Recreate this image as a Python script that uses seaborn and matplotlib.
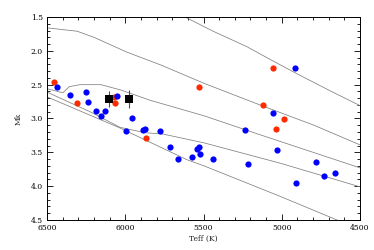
import matplotlib
matplotlib.use('Agg')
import matplotlib.pyplot as plt
from matplotlib.ticker import MultipleLocator
import pandas as pd
import seaborn as sns

# Stars (Teff, Mk)
red_teff = [6455, 6308, 6072, 6065, 5867, 5529, 5120, 5056, 4986, 5037]
red_mk   = [2.46, 2.77, 2.68, 2.77, 3.29, 2.53, 2.80, 2.25, 3.01, 3.16]

blue_teff = [6436, 6353, 6251, 6238, 6187, 6129, 6155, 6053, 5957, 5995,
             5887, 5874, 5778, 5714, 5663, 5573, 5541, 5529, 5522, 5439,
             5235, 5216, 5056, 5030, 4915, 4909, 4781, 4730, 4660]
blue_mk   = [2.53, 2.65, 2.61, 2.76, 2.89, 2.89, 2.96, 2.67, 2.99, 3.18,
             3.17, 3.16, 3.18, 3.42, 3.60, 3.57, 3.45, 3.42, 3.52, 3.60,
             3.17, 3.67, 2.92, 3.47, 2.25, 3.95, 3.64, 3.85, 3.81]

# Highlighted stars with error bars
sq_teff = [6104, 5976]
sq_mk   = [2.71, 2.71]
sq_err  = [0.12, 0.13]

# Isochrones
iso_a_teff = [5750, 5618, 5439, 5222, 5056, 4902, 4692, 4500]
iso_a_mk   = [1.32, 1.50, 1.71, 1.94, 2.15, 2.34, 2.59, 2.81]
iso_b_teff = [6500, 6308, 6200, 5989, 5772, 5497, 5139, 4794, 4500]
iso_b_mk   = [1.66, 1.71, 1.80, 2.02, 2.21, 2.48, 2.80, 3.10, 3.39]
iso_c_teff = [6500, 6398, 6359, 6289, 6155, 6027, 5842, 5497, 5139, 4500]
iso_c_mk   = [2.56, 2.62, 2.53, 2.50, 2.50, 2.58, 2.73, 2.96, 3.24, 3.73]
iso_d_teff = [6500, 6225, 6034, 5874, 5759, 5497, 5011, 4500]
iso_d_mk   = [2.61, 2.90, 3.13, 3.21, 3.23, 3.36, 3.66, 4.01]
iso_e_teff = [6500, 6034, 5605, 5497, 5011, 4647, 4500]
iso_e_mk   = [2.68, 3.14, 3.61, 3.70, 4.15, 4.50, 4.63]

sns.set_style('ticks')
plt.rcParams['font.family'] = ['DejaVu Serif']
plt.rcParams['font.size'] = 5.5
plt.rcParams['xtick.direction'] = 'in'
plt.rcParams['ytick.direction'] = 'in'

fig = plt.figure(figsize=(3.74, 2.5), dpi=100)
ax = fig.add_axes([0.1257, 0.12, 0.837, 0.812])

isos = [(iso_a_teff, iso_a_mk), (iso_b_teff, iso_b_mk), (iso_c_teff, iso_c_mk),
        (iso_d_teff, iso_d_mk), (iso_e_teff, iso_e_mk)]
for t, m in isos:
    d = pd.DataFrame({'teff': t, 'mk': m})
    sns.lineplot(data=d, x='teff', y='mk', sort=False, color='0.5',
                 linewidth=0.55, ax=ax)

sns.scatterplot(x=red_teff, y=red_mk, color='#ff2a00', s=20, linewidth=0,
                ax=ax, zorder=3)
sns.scatterplot(x=blue_teff, y=blue_mk, color='#0000ff', s=20, linewidth=0,
                ax=ax, zorder=3)
ax.errorbar(sq_teff, sq_mk, yerr=sq_err, fmt='none', ecolor='0.3',
            elinewidth=0.8, zorder=3)
sns.scatterplot(x=sq_teff, y=sq_mk, color='black', marker='s', s=34,
                linewidth=0, ax=ax, zorder=4)

ax.set_xlim(6500, 4500)
ax.set_ylim(4.5, 1.5)
ax.xaxis.set_major_locator(MultipleLocator(500))
ax.xaxis.set_minor_locator(MultipleLocator(100))
ax.yaxis.set_major_locator(MultipleLocator(0.5))
ax.yaxis.set_minor_locator(MultipleLocator(0.1))
ax.tick_params(which='both', top=True, right=True, width=0.6, colors='black')
ax.tick_params(which='major', length=4, pad=3)
ax.tick_params(which='minor', length=2)
ax.yaxis.set_major_formatter(plt.FormatStrFormatter('%.1f'))
for s in ax.spines.values():
    s.set_linewidth(0.7)
    s.set_color('black')

ax.set_xlabel('Teff (K)', labelpad=2)
ax.set_ylabel('Mk', labelpad=6)

fig.savefig('out.png', dpi=100)
